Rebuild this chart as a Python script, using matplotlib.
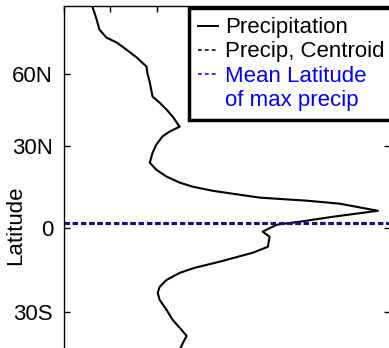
import numpy as np
import matplotlib
matplotlib.use('Agg')
import matplotlib.pyplot as plt
from matplotlib.lines import Line2D

plt.rcParams['font.family'] = ['Liberation Sans', 'DejaVu Sans']

# zonal mean precipitation profile
lat = [90, 84.2, 79.7, 76.1, 73.9, 70.7, 67.2, 63.1, 60, 56.3, 50.4, 47.9, 45,
       42.1, 37.9, 35.8, 33.8, 30.4, 27.4, 23.8, 21.2, 18.7, 16.5, 15, 13.5,
       11, 9.9, 8.8, 6.2, 4.0, 2.2, 1.1, -1.4, -3.2, -6.8, -8.9, -12.1, -14.3,
       -16.1, -18.6, -21.1, -23.2, -25.7, -29.3, -33.4, -37.7, -40.3, -43.3,
       -46.3]
precip = [0.62, 0.71, 0.77, 0.92, 1.14, 1.35, 1.57, 1.78, 1.80, 1.85, 1.91,
          2.06, 2.21, 2.34, 2.49, 2.27, 2.12, 1.99, 1.91, 1.85, 1.99, 2.21,
          2.49, 2.77, 3.20, 4.21, 5.21, 5.92, 6.74, 5.77, 5.06, 4.57, 4.27,
          4.42, 4.38, 4.06, 3.35, 2.81, 2.49, 2.21, 2.06, 2.02, 2.06, 2.21,
          2.34, 2.53, 2.64, 2.56, 2.49]
centroid_lat = 1.8
max_precip_lat = 1.8

yticks = [-30, 0, 30, 60]
ytick_labels = ['30S', '0', '30N', '60N']

# latitude axis is slightly compressed toward the poles
scale_lat = np.array([-90, -60, -30, 0, 30, 60, 90])
scale_pos = np.array([-221, -154, -84, 0, 82, 154, 221])


def fwd(v):
    return np.interp(v, scale_lat, scale_pos)


def inv(v):
    return np.interp(v, scale_pos, scale_lat)


fig = plt.figure(figsize=(3.89, 3.48), dpi=100)
W, H = 389, 348
left, top, right, bottom = 63.5, 6.5, 390.0, 449.0
ax = fig.add_axes([left / W, 1 - bottom / H, (right - left) / W, (bottom - top) / H])

ax.set_yscale('function', functions=(fwd, inv))

ax.plot(precip, lat, color='black', lw=1.5)
ax.axhline(centroid_lat, color='black', lw=2.2, dashes=(1.7, 1.0))
ax.axhline(max_precip_lat, color='#10109a', lw=2.2, dashes=(1.7, 1.0))

ax.set_xlim(0, 7)
ax.set_ylim(-90, 90)
ax.set_xticks(range(0, 8))
ax.set_yticks(yticks)
ax.set_yticklabels(ytick_labels)
ax.tick_params(direction='in', length=4, width=1, top=True, right=True,
               labelsize=16, pad=7.5, labelbottom=False)
for s in ax.spines.values():
    s.set_linewidth(1.0)

ax.set_ylabel('Latitude', fontsize=16)
ax.yaxis.set_label_coords(-0.115, 0.506)

handles = [Line2D([], [], color='black', lw=1.4),
           Line2D([], [], color='black', lw=1.1, dashes=(2.5, 2.0)),
           Line2D([], [], color='blue', lw=1.1, dashes=(2.5, 2.0)),
           Line2D([], [], color='none')]
labels = ['Precipitation', 'Precip, Centroid', 'Mean Latitude', 'of max precip']
leg = ax.legend(handles, labels, loc='upper left',
                bbox_to_anchor=(189 / W, 1 - 8 / H), bbox_transform=fig.transFigure,
                borderaxespad=0, fontsize=16, frameon=True, fancybox=False,
                framealpha=1, edgecolor='black', handlelength=0.9,
                handletextpad=0.32, labelspacing=0.14, borderpad=0.42)
leg.get_frame().set_linewidth(2.5)
for t in leg.get_texts()[2:]:
    t.set_color('blue')

fig.savefig('out.png', dpi=100)
